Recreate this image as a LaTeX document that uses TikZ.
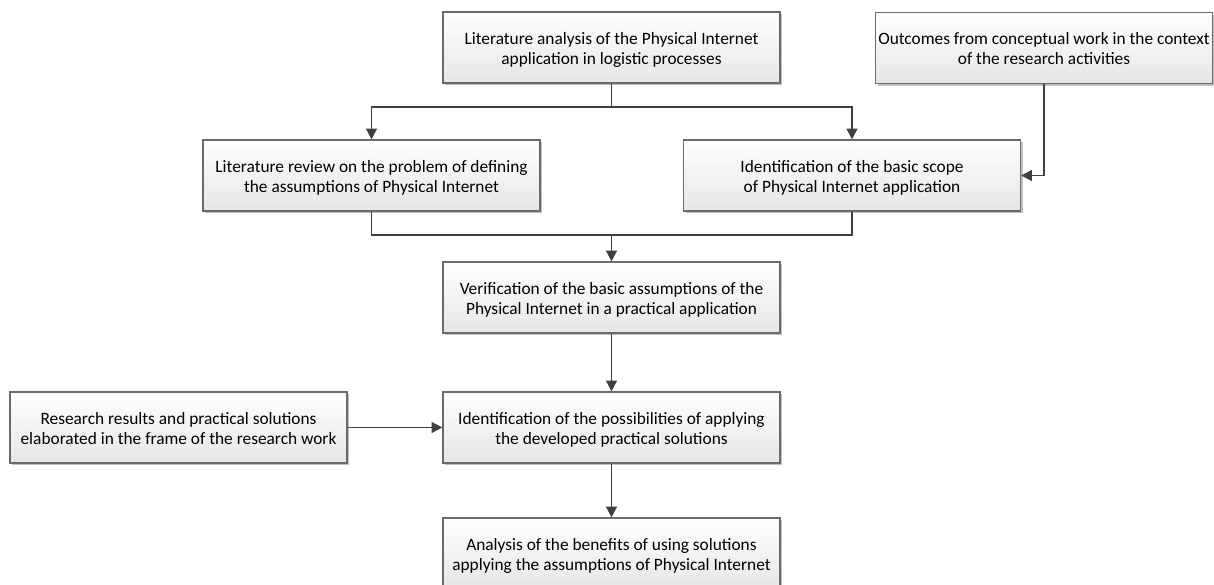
\documentclass[tikz,border=0pt]{standalone}
\usepackage{fontspec}
\setmainfont{Carlito}
\usetikzlibrary{arrows.meta,shadows,calc}
\definecolor{boxline}{HTML}{6A6A6A}
\definecolor{boxbottom}{HTML}{E6E6E6}
\definecolor{conn}{HTML}{404040}
\tikzset{
  flowbox/.style={
    draw=boxline, line width=0.9pt,
    top color=white, bottom color=boxbottom,
    minimum width=252.75pt, minimum height=53.25pt,
    inner sep=0pt, align=center,
    font=\fontsize{13}{15}\selectfont,
    text height=28.2pt, text depth=3pt,
    drop shadow={shadow xshift=1.7pt, shadow yshift=-1.7pt, fill=black!30, opacity=0.8}
  },
  conline/.style={draw=conn, line width=1.3pt},
  arr/.style={conline, -{Triangle[length=8pt,width=8pt]}}
}
\begin{document}
\begin{tikzpicture}[x=0.75pt, y=-0.75pt]
  \useasboundingbox (0,0) rectangle (1214,585);

  % boxes (centres in pixel coordinates)
  \node[flowbox] (lit)  at (611.5,47.5)  {Literature analysis of the Physical Internet\\application in logistic processes};
  \node[flowbox] (out)  at (1044,48)   {Outcomes from conceptual work in the context\\of the research activities};
  \node[flowbox] (rev)  at (371.5,175.5) {Literature review on the problem of defining\\the assumptions of Physical Internet};
  \node[flowbox] (scope) at (852,175.5)  {Identification of the basic scope\\of Physical Internet application};
  \node[flowbox] (ver)  at (611.5,297.5) {Verification of the basic assumptions of the\\Physical Internet in a practical application};
  \node[flowbox] (res)  at (178.5,427.5) {Research results and practical solutions\\elaborated in the frame of the research work};
  \node[flowbox] (poss) at (611.5,427.5) {Identification of the possibilities of applying\\the developed practical solutions};
  \node[flowbox] (ben)  at (611.5,553.5) {Analysis of the benefits of using solutions\\applying the assumptions of Physical Internet};

  % branching and merging points
  \coordinate (split) at (611.5,107);
  \coordinate (merge) at (611.5,235);

  % connectors
  \draw[conline] (lit.south) -- (split);
  \draw[arr] (split) -| (rev.north);
  \draw[arr] (split) -| (scope.north);
  \draw[arr] (out.south) |- (scope.east);
  \draw[conline] (rev.south) |- (merge) -| (scope.south);
  \draw[arr] (merge) -- (ver.north);
  \draw[arr] (ver.south) -- (poss.north);
  \draw[arr] (res.east) -- (poss.west);
  \draw[arr] (poss.south) -- (ben.north);
\end{tikzpicture}
\end{document}
